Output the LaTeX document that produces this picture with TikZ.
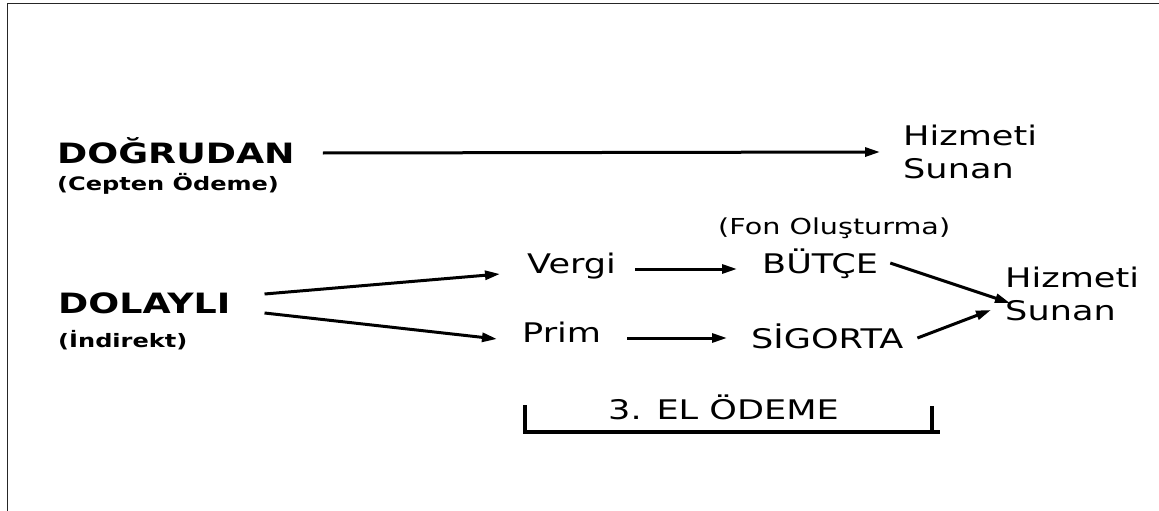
\documentclass[tikz,border=0pt]{standalone}
\usepackage{fontspec}
\setmainfont{DejaVu Sans}[FakeStretch=1.3]
\usetikzlibrary{arrows.meta}

\begin{document}
\begin{tikzpicture}[x=1pt,y=-1pt,
    label/.style={inner sep=0pt,anchor=base west,font=\fontsize{27}{33}\selectfont},
    head/.style={inner sep=0pt,anchor=base west,font=\fontsize{28}{30}\selectfont\bfseries},
    sub/.style={inner sep=0pt,anchor=base west,font=\fontsize{18.5}{20}\selectfont\bfseries}]
				\useasboundingbox (0,0) rectangle (1159,511);
				\draw [line width=1.2pt,black!85] (7.5,511) -- (7.5,3.5) -- (1159,3.5);
				
				\begin{scope}
					\node [head] (DO) at (57,163) {DOĞRUDAN};
					\node [sub] (CO) at (57,190) {(Cepten Ödeme)};
					\node [head] (DL) at (58,313) {DOLAYLI};
					\node [sub] (IN) at (58,347) {(İndirekt)};
					\node [label] (VE) at (527,273) {Vergi};
					\node [label] (PR) at (522,342) {Prim};
					\node [label] (BU) at (762,273) {BÜTÇE};
					\node [label] (SI) at (751,348) {SİGORTA};
					\node [label,font=\fontsize{22}{24}\selectfont] (FO) at (718,234) {(Fon Oluşturma)};
					\node [label,anchor=west,align=left] (HA) at (903,152) {Hizmeti\\Sunan};
					\node [label,anchor=west,align=left] (HB) at (1005,293.5) {Hizmeti\\Sunan};
					\node [label] (EL) at (608,419) {3. EL ÖDEME};
				\end{scope}
				
				\begin{scope}[>={Triangle[length=15pt,width=9pt]},
					every edge/.style={draw,line width=3pt}]
					\path [->] ([xshift=28pt,yshift=10pt]DO.base east) edge ([xshift=-23pt]HA.west);%direct%
					\path [->] ([xshift=34pt,yshift=19pt]DL.base east) edge ([xshift=-27pt,yshift=-1pt]VE.base west);
					\path [->] ([xshift=34pt]DL.base east) edge ([xshift=-25pt,yshift=3pt]PR.base west);
					\path [->] ([xshift=19pt,yshift=4pt]VE.base east) edge ([xshift=-25pt,yshift=4pt]BU.base west);
					\path [->] ([xshift=26pt,yshift=4pt]PR.base east) edge ([xshift=-24pt,yshift=10pt]SI.base west);
					\path [->] ([xshift=12pt,yshift=10pt]BU.base east) edge ([xshift=5pt,yshift=-9.5pt]HB.west);
					\path [->] ([xshift=14pt,yshift=10pt]SI.base east) edge ([xshift=-14pt,yshift=-16.5pt]HB.west);
				\end{scope}
				
				% 3. el bracket
				\draw [line width=4pt] (525,405) -- (525,432) -- (940,432);
				\draw [line width=4pt] (932,406) -- (932,432);
			\end{tikzpicture}
\end{document}
